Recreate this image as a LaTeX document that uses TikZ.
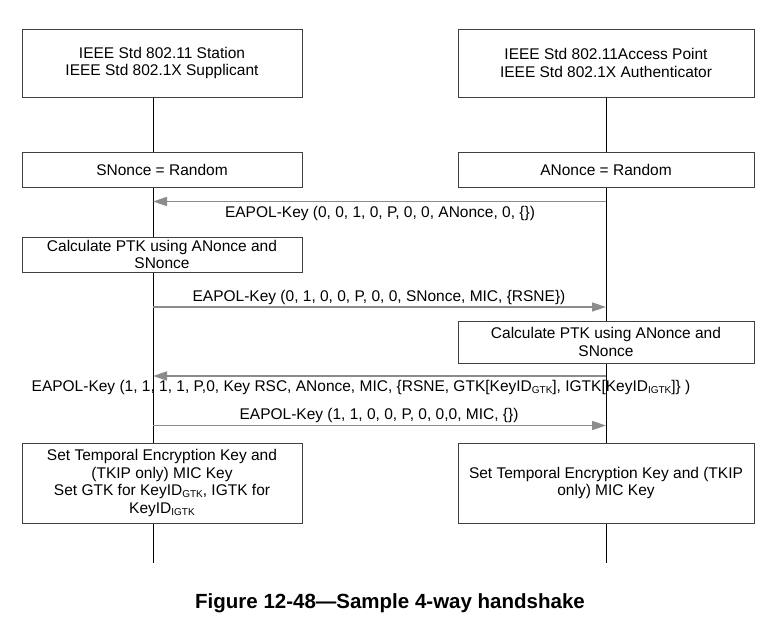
\documentclass[tikz,border=0pt]{standalone}
\usepackage{fontspec}
\setmainfont{Liberation Sans}
\usetikzlibrary{arrows.meta}
\newcommand{\sbs}[1]{\raisebox{-0.25ex}{\fontsize{10}{10}\selectfont #1}}
\tikzset{
  box/.style={draw=black!75, line width=0.9pt, fill=white, inner sep=0pt, align=center,
              font=\fontsize{15.5}{17.8}\selectfont},
  lbox/.style={box, minimum width=280pt},
  rbox/.style={box, minimum width=296pt},
  life/.style={draw=black, line width=1pt},
  msg/.style={draw=black!45, line width=1.6pt, -{Triangle[length=14pt,width=9pt]}},
  lbl/.style={inner sep=0pt, font=\fontsize{15.5}{17.8}\selectfont},
}
\begin{document}
\begin{tikzpicture}[x=1pt,y=-1pt]
\useasboundingbox (0,0) rectangle (774,630);
\fill[white] (0,0) rectangle (774,630);
% lifelines
\coordinate (ltop) at (153,97);
\coordinate (lbot) at (153,563);
\coordinate (rtop) at (606,97);
\coordinate (rbot) at (606,563);
\draw[life] (ltop) -- (lbot);
\draw[life] (rtop) -- (rbot);
% boxes
\node[lbox, minimum height=68pt] (sta) at (162,63) {IEEE Std 802.11 Station\\IEEE Std 802.1X Supplicant};
\node[rbox, minimum height=68pt] (ap) at (606,63) {IEEE Std 802.11Access Point\\IEEE Std 802.1X Authenticator};
\node[lbox, minimum height=35pt] (sn) at (162,169.5) {SNonce = Random};
\node[rbox, minimum height=35pt] (an) at (606,169.5) {ANonce = Random};
\node[lbox, minimum height=35pt] (cl) at (162,254.5) {Calculate PTK using ANonce and\\SNonce};
\node[rbox, minimum height=42pt] (cr) at (606,342) {Calculate PTK using ANonce and\\SNonce};
\node[lbox, minimum height=80pt] (sl) at (162,483) {Set Temporal Encryption Key and\\(TKIP only) MIC Key\\Set GTK for KeyID\sbs{GTK}, IGTK for\\KeyID\sbs{IGTK}};
\node[rbox, minimum height=80pt] (sr) at (606,483) {Set Temporal Encryption Key and (TKIP\\only) MIC Key};
% message endpoints
\coordinate (m1r) at (606,201.5); \coordinate (m1l) at (153,201.5);
\coordinate (m2l) at (153,307);   \coordinate (m2r) at (606,307);
\coordinate (m3r) at (606,376);   \coordinate (m3l) at (153,376);
\coordinate (m4l) at (153,425.5); \coordinate (m4r) at (606,425.5);
\draw[msg] (m1r) -- (m1l);
\draw[msg] (m2l) -- (m2r);
\draw[msg] (m3r) -- (m3l);
\draw[msg] (m4l) -- (m4r);
% labels
\node[lbl] (t1) at (380,213) {EAPOL-Key (0, 0, 1, 0, P, 0, 0, ANonce, 0, \{\})};
\node[lbl] (t2) at (379,297) {EAPOL-Key (0, 1, 0, 0, P, 0, 0, SNonce, MIC, \{RSNE\})};
\node[lbl] (t3) at (361,387.3) {EAPOL-Key (1, 1, 1, 1, P,0, Key RSC, ANonce, MIC, \{RSNE, GTK[KeyID\sbs{GTK}], IGTK[KeyID\sbs{IGTK}]\} )};
\node[lbl] (t4) at (379,415) {EAPOL-Key (1, 1, 0, 0, P, 0, 0,0, MIC, \{\})};
% caption
\node[inner sep=0pt, font=\fontsize{20.5}{24}\selectfont\bfseries] (cap) at (390,603) {Figure 12-48---Sample 4-way handshake};
\end{tikzpicture}
\end{document}
